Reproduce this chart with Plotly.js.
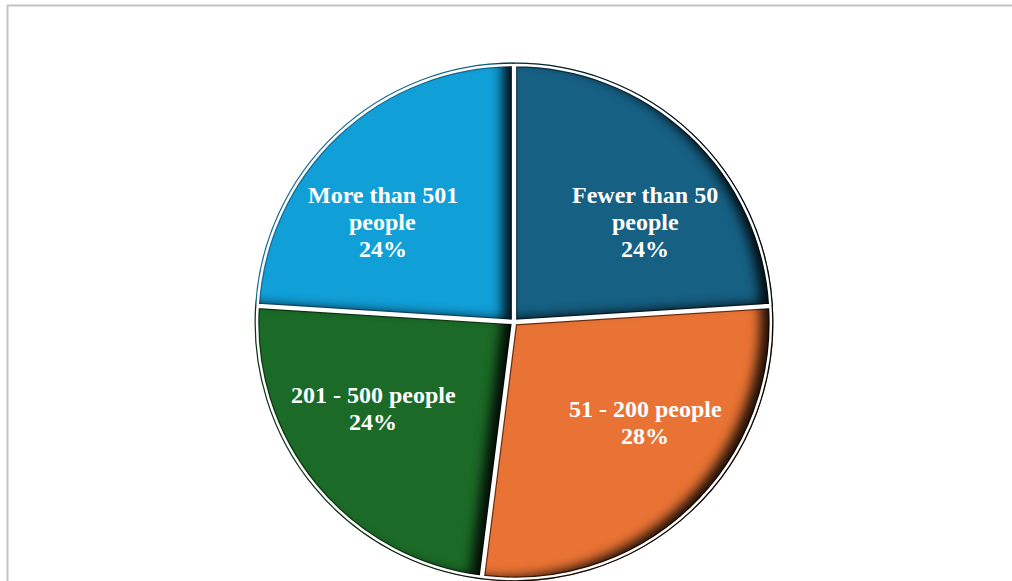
<!DOCTYPE html>
<html>
<head>
<meta charset="utf-8">
<script src="https://cdn.plot.ly/plotly-3.0.1.min.js"></script>
<style>
  html, body { margin: 0; padding: 0; background: #ffffff; }
  #chart { width: 1012px; height: 581px; }
</style>
</head>
<body>
<svg width="0" height="0" style="position:absolute">
  <defs>
    <!-- inner shadow along the right/lower edges of each slice -->
    <filter id="innerShade" x="-25%" y="-25%" width="150%" height="150%" color-interpolation-filters="sRGB">
      <feComponentTransfer in="SourceAlpha" result="outside">
        <feFuncA type="table" tableValues="1 0"/>
      </feComponentTransfer>
      <feOffset in="outside" dx="-13" dy="-4" result="shifted"/>
      <feGaussianBlur in="shifted" stdDeviation="6" result="soft"/>
      <feFlood flood-color="#000000" flood-opacity="0.88" result="ink"/>
      <feComposite in="ink" in2="soft" operator="in" result="shade"/>
      <feComposite in="shade" in2="SourceAlpha" operator="in" result="innerShade"/>
      <feMerge>
        <feMergeNode in="SourceGraphic"/>
        <feMergeNode in="innerShade"/>
      </feMerge>
    </filter>
  </defs>
</svg>
<div id="chart"></div>
<script>
// Company size groups and their shares (%)
const categories = ["Fewer than 50 people", "51 - 200 people", "201 - 500 people", "More than 501 people"];
const sliceText = ["Fewer than 50<br>people", "51 - 200 people", "201 - 500 people", "More than 501<br>people"];
const shares = [24, 28, 24, 24];
const sliceColors = ["#166084", "#e97334", "#1b6a27", "#119fd8"];
const edgeColors = ["#0c3347", "#6e300e", "#0d3814", "#156d98"];

const W = 1012, H = 581;
const cx = 514, cy = 322, r = 256;
const pull = 0.005;
const box = r * (2 + 2 * pull) / 2;   // half of the domain box that yields radius r
const domain = {
  x: [(cx - box) / W, (cx + box) / W],
  y: [1 - (cy + box) / H, 1 - (cy - box) / H]
};

// filled slices with a thin dark rim (shaded afterwards)
const fills = {
  type: "pie",
  labels: categories,
  values: shares,
  sort: false,
  direction: "clockwise",
  rotation: 0,
  pull: pull,
  marker: { colors: sliceColors, line: { color: edgeColors, width: 5 } },
  textinfo: "none",
  hoverinfo: "label+percent",
  showlegend: false,
  domain: domain
};

// white slice borders drawn on top of the shading
const borders = {
  type: "pie",
  labels: categories,
  values: shares,
  sort: false,
  direction: "clockwise",
  rotation: 0,
  pull: pull,
  marker: { colors: categories.map(() => "rgba(0,0,0,0)"), line: { color: "#ffffff", width: 2.5 } },
  textinfo: "none",
  hoverinfo: "skip",
  showlegend: false,
  domain: domain
};

// slice labels: name lines plus percentage, placed inside each slice
const total = shares.reduce((a, b) => a + b, 0);
const labelFont = { family: "Liberation Serif, Times New Roman, serif", size: 24, color: "#ffffff", weight: "bold" };
const labelRadius = 0.645 * r;
const lineGap = 27;
const annotations = [];
let cum = 0;
shares.forEach((v, i) => {
  const mid = (cum + v / 2) / total * 2 * Math.PI;   // clockwise from 12 o'clock
  cum += v;
  const sx = Math.sin(mid), sy = Math.cos(mid);
  const side = sx >= 0 ? 1 : -1;
  const elev = Math.asin(sy) * 0.8;                  // ease labels toward the horizontal
  const px = cx + side * labelRadius * Math.cos(elev);
  const py = cy - labelRadius * Math.sin(elev);
  const lines = sliceText[i].split("<br>").concat([Math.round(v / total * 100) + "%"]);
  lines.forEach((t, k) => {
    const ly = py + (k - (lines.length - 1) / 2) * lineGap;
    annotations.push({
      xref: "paper", yref: "paper",
      x: px / W, y: 1 - ly / H,
      xanchor: "center", yanchor: "middle",
      text: t, showarrow: false, font: labelFont
    });
  });
});

const layout = {
  width: W,
  height: H,
  margin: { l: 0, r: 0, t: 0, b: 0 },
  paper_bgcolor: "#ffffff",
  showlegend: false,
  annotations: annotations,
  shapes: [{
    type: "rect", xref: "paper", yref: "paper",
    x0: 7.5 / W, x1: 1.02, y0: -0.05, y1: 1 - 5.5 / H,
    line: { color: "#c3c3c3", width: 2 }, fillcolor: "rgba(0,0,0,0)", layer: "below"
  }]
};

Plotly.newPlot("chart", [fills, borders], layout, { displayModeBar: false, staticPlot: true }).then(gd => {
  const firstTrace = gd.querySelector(".pielayer .trace");
  if (firstTrace) {
    firstTrace.querySelectorAll("path.surface").forEach(p => p.setAttribute("filter", "url(#innerShade)"));
  }
});
</script>
</body>
</html>
